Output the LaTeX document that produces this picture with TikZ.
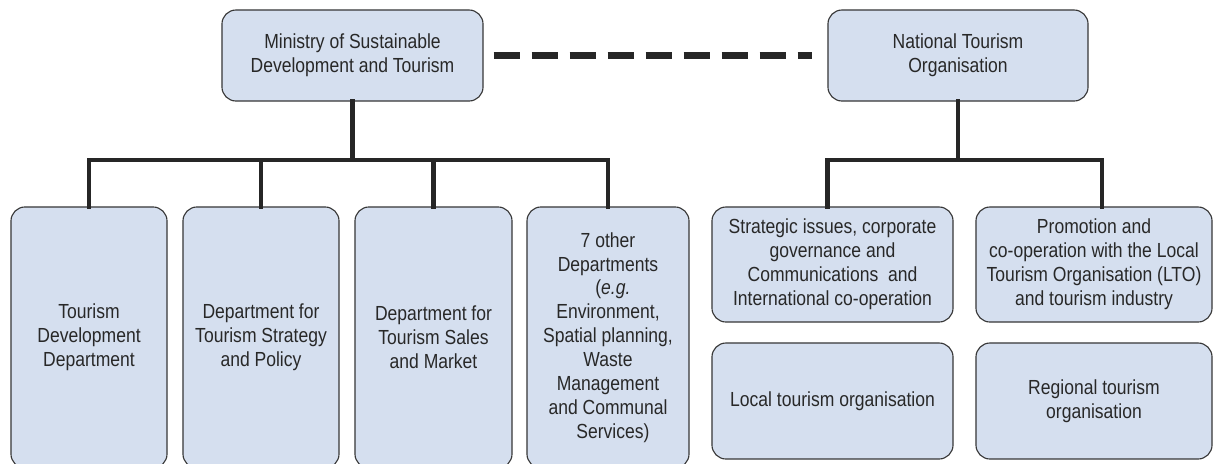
\documentclass[tikz,border=0pt]{standalone}
\usepackage{fontspec}
\setmainfont{Liberation Sans}[FakeStretch=0.86]
\usepackage{xcolor}
\definecolor{orgfill}{RGB}{213,223,239}
\definecolor{orgline}{RGB}{55,55,55}
\definecolor{orgtext}{RGB}{40,40,40}
\usetikzlibrary{positioning,calc}

\begin{document}
\begin{tikzpicture}[x=0.025cm, y=-0.025cm,
  orgbox/.style={draw=orgline, line width=0.8pt, fill=orgfill, rounded corners=10pt,
    align=center, text=orgtext, inner sep=2pt,
    font=\fontsize{14.5pt}{17pt}\selectfont},
  conn/.style={line width=3.4pt, line cap=rect, black!85},
  link/.style={line width=4.6pt, black!85, dash pattern=on 0.65cm off 0.3cm}]
  \useasboundingbox (0,0) rectangle (1216,463);
  \clip (0,0) rectangle (1216,463);

  % Top level
  \node[orgbox, minimum width=6.525cm, minimum height=2.275cm] (ministry) at (352.5,55.5)
    {Ministry of Sustainable\\Development and Tourism};
  \node[orgbox, minimum width=6.5cm, minimum height=2.275cm] (nto) at (958,55.5)
    {National Tourism\\Organisation};
  \draw[link] ([xshift=0.25cm]ministry.east) -- ([xshift=-0.375cm]nto.west);

  % Ministry departments
  \node[orgbox, minimum width=3.9cm, minimum height=6.525cm] (dep1) at (89,337.5)
    {Tourism\\Development\\Department};
  \node[orgbox, minimum width=3.9cm, minimum height=6.525cm] (dep2) at (261,337.5)
    {Department for\\Tourism Strategy\\and Policy};
  \node[orgbox, minimum width=3.925cm, minimum height=6.525cm] (dep3) at (433.5,337.5)
    {Department for\\Tourism Sales\\and Market};
  \node[orgbox, minimum width=4.05cm, minimum height=6.525cm] (dep4) at (608,337.5)
    {7 other\\Departments\\\ \ (\textit{e.g.}\\Environment,\\Spatial planning,\\Waste\\Management\\and Communal\\\ \ Services)};

  % NTO sectors
  \node[orgbox, minimum width=6.025cm, minimum height=2.875cm] (strat) at (832.5,264.5)
    {Strategic issues, corporate\\governance and\\Communications\ \ and\\International co-operation};
  \node[orgbox, minimum width=5.9cm, minimum height=2.875cm] (promo) at (1094,264.5)
    {Promotion and\\co-operation with the Local\\Tourism Organisation (LTO)\\and tourism industry};
  \node[orgbox, minimum width=6.025cm, minimum height=2.9cm] (local) at (832.5,401)
    {Local tourism organisation};
  \node[orgbox, minimum width=5.9cm, minimum height=2.9cm] (regional) at (1094,401)
    {Regional tourism\\organisation};

  % Connectors
  \coordinate (leftbar) at (0,160);
  \coordinate (rightbar) at (0,160);
  \draw[conn] (ministry.south) -- (ministry.south |- leftbar);
  \draw[conn] (dep1.north) -- (dep1.north |- leftbar) -- (dep4.north |- leftbar) -- (dep4.north);
  \draw[conn] (dep2.north) -- (dep2.north |- leftbar);
  \draw[conn] (dep3.north) -- (dep3.north |- leftbar);
  \draw[conn] (nto.south) -- (nto.south |- rightbar);
  \draw[conn] ([xshift=-0.125cm]strat.north) -- ([xshift=-0.125cm]strat.north |- rightbar)
    -- ([xshift=0.2cm]promo.north |- rightbar) -- ([xshift=0.2cm]promo.north);
\end{tikzpicture}
\end{document}
